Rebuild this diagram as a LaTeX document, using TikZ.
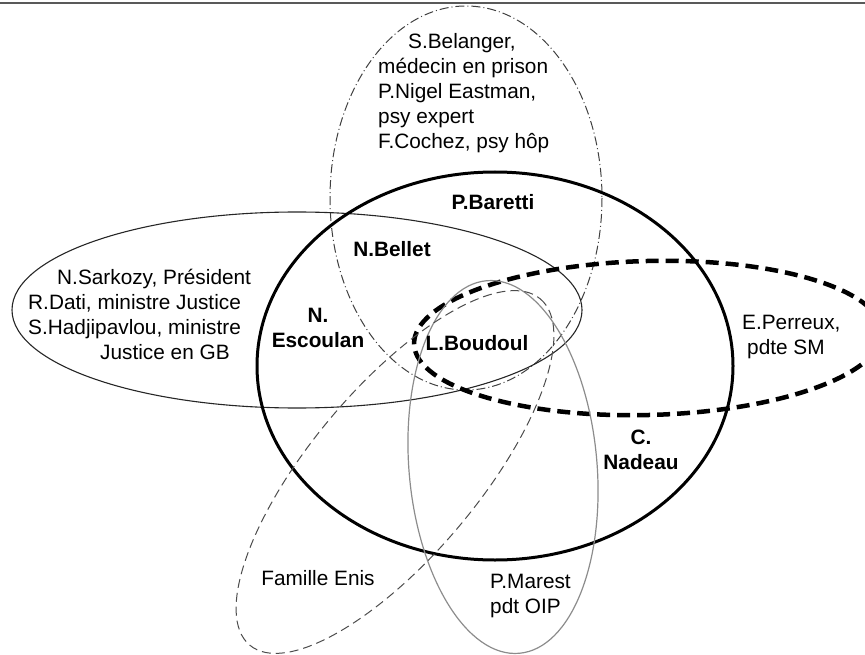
\documentclass[tikz,border=0pt]{standalone}
\usepackage{fontspec}
\setmainfont{Liberation Sans}

\begin{document}
\begin{tikzpicture}[x=1pt, y=-1pt,
  lbl/.style={font=\fontsize{20.8}{25}\selectfont, inner sep=0pt, align=left},
  nom/.style={font=\fontsize{20.8}{25}\selectfont\bfseries, inner sep=0pt, align=center},
  fin/.style={draw=black!85, line width=1.1pt},
  epais/.style={draw, line width=3pt},
  tirets/.style={draw, line width=4.5pt, dash pattern=on 13pt off 7pt},
  mixte/.style={draw=black!75, line width=1pt, dash pattern=on 9pt off 3pt on 1pt off 3pt},
  gris/.style={draw=black!45, line width=1.2pt},
  enis/.style={draw=black!70, line width=1pt, dash pattern=on 9pt off 5pt}]
\clip (0,0) rectangle (865,655);
\draw[draw=black!65, line width=2pt] (0,3) -- (865,3);
% ensembles
\draw[mixte] (466,198) ellipse [x radius=136, y radius=192];
\draw[fin] (297,310) ellipse [x radius=285, y radius=98];
\draw[epais] (495,366) ellipse [x radius=238, y radius=194];
\draw[tirets, rotate around={1.5:(648,338)}] (648,338) ellipse [x radius=234, y radius=77];
\draw[gris, rotate around={5:(503,467)}] (503,467) ellipse [x radius=94, y radius=187];
\draw[enis, rotate around={50:(395,472)}] (395,472) ellipse [x radius=226, y radius=84];
% noms
\node[lbl, anchor=west] (med) at (378,93)
  {\hspace*{30pt}S.Belanger,\\médecin en prison\\P.Nigel Eastman,\\psy expert\\F.Cochez, psy hôp};
\node[lbl, anchor=west] (gouv) at (28,314)
  {\hspace*{29pt}N.Sarkozy, Président\\R.Dati, ministre Justice\\S.Hadjipavlou, ministre\\\hspace*{72pt}Justice en GB};
\node[nom] (baretti) at (493,202) {P.Baretti};
\node[nom] (bellet) at (392,249) {N.Bellet};
\node[nom] (escoulan) at (318,328) {N.\\Escoulan};
\node[nom] (boudoul) at (477,343) {L.Boudoul};
\node[nom] (nadeau) at (641,450) {C.\\Nadeau};
\node[lbl, anchor=west] (perreux) at (742,337) {E.Perreux,\\\hspace*{5pt}pdte SM};
\node[lbl] (famille) at (318,578) {Famille Enis};
\node[lbl, anchor=west] (marest) at (490,596) {P.Marest\\pdt OIP};
\end{tikzpicture}
\end{document}
